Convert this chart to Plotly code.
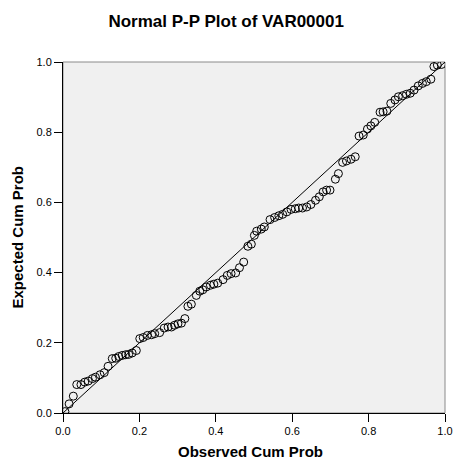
import plotly.graph_objects as go

title_text = "Normal P-P Plot of VAR00001"
x_title = "Observed Cum Prob"
y_title = "Expected Cum Prob"

observed = [0.005, 0.016, 0.027, 0.036, 0.047, 0.057, 0.066, 0.077, 0.085, 0.097,
            0.108, 0.118, 0.129, 0.138, 0.146, 0.155, 0.164, 0.172, 0.181, 0.192,
            0.201, 0.210, 0.221, 0.232, 0.240, 0.253, 0.265, 0.275, 0.284, 0.292,
            0.301, 0.310, 0.319, 0.327, 0.336, 0.349, 0.358, 0.366, 0.375, 0.386,
            0.395, 0.405, 0.419, 0.430, 0.440, 0.452, 0.462, 0.473, 0.484, 0.493,
            0.501, 0.507, 0.519, 0.527, 0.542, 0.554, 0.565, 0.575, 0.586, 0.597,
            0.608, 0.617, 0.627, 0.638, 0.649, 0.661, 0.671, 0.681, 0.690, 0.699,
            0.713, 0.721, 0.732, 0.742, 0.754, 0.765, 0.775, 0.786, 0.797, 0.806,
            0.816, 0.830, 0.838, 0.848, 0.858, 0.869, 0.878, 0.889, 0.899, 0.909,
            0.919, 0.930, 0.941, 0.951, 0.963, 0.971, 0.980, 0.991]
expected = [0.004, 0.026, 0.048, 0.081, 0.081, 0.088, 0.091, 0.098, 0.102, 0.109,
            0.115, 0.133, 0.155, 0.156, 0.161, 0.164, 0.166, 0.167, 0.171, 0.178,
            0.212, 0.215, 0.221, 0.223, 0.226, 0.229, 0.242, 0.245, 0.245, 0.250,
            0.254, 0.256, 0.269, 0.304, 0.310, 0.335, 0.347, 0.351, 0.359, 0.364,
            0.367, 0.370, 0.380, 0.392, 0.397, 0.399, 0.414, 0.430, 0.475, 0.481,
            0.506, 0.518, 0.524, 0.530, 0.551, 0.557, 0.562, 0.566, 0.573, 0.580,
            0.582, 0.584, 0.584, 0.587, 0.594, 0.606, 0.616, 0.630, 0.635, 0.635,
            0.666, 0.682, 0.714, 0.718, 0.723, 0.730, 0.789, 0.792, 0.809, 0.818,
            0.828, 0.857, 0.858, 0.860, 0.882, 0.892, 0.901, 0.904, 0.908, 0.911,
            0.920, 0.932, 0.939, 0.944, 0.951, 0.987, 0.991, 0.993]

ref_line = [0.0, 1.0]
tick_vals = [0.0, 0.2, 0.4, 0.6, 0.8, 1.0]
tick_text = ["0.0", "0.2", "0.4", "0.6", "0.8", "1.0"]

font_family = "Liberation Sans, Arial, sans-serif"

fig = go.Figure()
fig.add_trace(go.Scatter(x=ref_line, y=ref_line, mode="lines",
                         line=dict(color="black", width=1), hoverinfo="skip",
                         showlegend=False))
fig.add_trace(go.Scatter(x=observed, y=expected, mode="markers",
                         marker=dict(symbol="circle-open", size=8,
                                     color="black", line=dict(width=1)),
                         showlegend=False))

fig.add_shape(type="rect", xref="paper", yref="paper", x0=0, y0=0, x1=1, y1=1,
              line=dict(color="#8a8a8a", width=1), layer="below")

axis_common = dict(range=[0, 1], tickvals=tick_vals, ticktext=tick_text,
                   showgrid=False, zeroline=False, showline=True,
                   linecolor="black", linewidth=1, ticks="outside",
                   ticklen=8, tickcolor="black", tickwidth=1, automargin=False,
                   tickfont=dict(size=11, color="black", family=font_family))

fig.update_layout(
    width=456, height=460,
    margin=dict(l=63, r=11, t=62, b=47),
    paper_bgcolor="white", plot_bgcolor="#f0f0f0",
    title=dict(text="<b>" + title_text + "</b>", xref="container", yref="container",
               x=0.496, xanchor="center", y=1 - 21 / 460, yanchor="middle",
               font=dict(size=17, color="black", family=font_family)),
    xaxis=dict(**axis_common),
    yaxis=dict(**axis_common),
    annotations=[
        dict(text="<b>" + x_title + "</b>", xref="paper", yref="paper",
             x=0.492, y=0, xanchor="center", yanchor="middle", yshift=-38,
             showarrow=False, font=dict(size=15, color="black", family=font_family)),
        dict(text="<b>" + y_title + "</b>", xref="paper", yref="paper",
             x=0, y=0.5, xanchor="center", yanchor="middle", xshift=-46,
             textangle=-90, showarrow=False,
             font=dict(size=15, color="black", family=font_family)),
    ],
)

fig.write_html("out.html", config={"displayModeBar": False},
               post_script="document.body.style.margin='0';")
